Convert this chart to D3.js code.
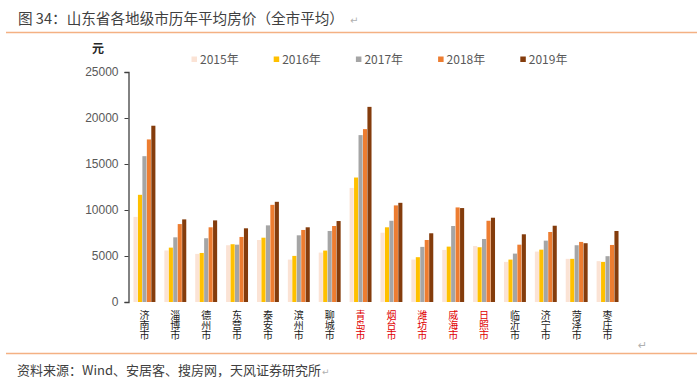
<!DOCTYPE html>
<html lang="zh">
<head>
    <meta charset="UTF-8">
    <title>山东省各地级市历年平均房价</title>
    <style>
        body { margin: 0; background: #fff; }
        svg { display: block; }
    </style>
    <script src="https://d3js.org/d3.v7.min.js"></script>
</head>
<body>
    <div id="svg"></div>
    <script>
        const boxWidth = 700, boxHeight = 383

        const cities = ["济南市", "淄博市", "德州市", "东营市", "泰安市", "滨州市", "聊城市", "青岛市",
            "烟台市", "潍坊市", "威海市", "日照市", "临沂市", "济宁市", "菏泽市", "枣庄市"]
        const redCities = ["青岛市", "烟台市", "潍坊市", "威海市", "日照市"]
        const years = ["2015年", "2016年", "2017年", "2018年", "2019年"]
        const yearColors = ["#fbe3d5", "#ffc000", "#a5a5a5", "#ed7d31", "#843c0c"]

        const price2015 = [9250, 5600, 5230, 6170, 6740, 4610, 5370, 12400, 7530, 4610, 5660, 6090, 4360, 5480, 4690, 4440]
        const price2016 = [11650, 5910, 5330, 6280, 6990, 5010, 5590, 13530, 8120, 4870, 6020, 5950, 4610, 5690, 4690, 4360]
        const price2017 = [15850, 7030, 6930, 6230, 8330, 7250, 7720, 18140, 8830, 5990, 8260, 6850, 5260, 6670, 6170, 4980]
        const price2018 = [17670, 8470, 8120, 7070, 10560, 7830, 8260, 18790, 10500, 6740, 10280, 8830, 6230, 7610, 6530, 6200]
        const price2019 = [19160, 8980, 8870, 8010, 10890, 8120, 8800, 21210, 10780, 7470, 10210, 9160, 7360, 8290, 6390, 7720]
        const series = [price2015, price2016, price2017, price2018, price2019]

        const yTicks = [0, 5000, 10000, 15000, 20000, 25000]

        const cnFont = "'Noto Sans CJK SC', 'Noto Sans', sans-serif"
        const numFont = "'Liberation Sans', Arial, sans-serif"

        const svg = d3.select("#svg").append("svg")
            .attr("width", boxWidth).attr("height", boxHeight)

        // title + rule
        svg.append("text")
            .attr("x", 18).attr("y", 24)
            .attr("font-family", cnFont).attr("font-size", 14.6)
            .attr("fill", "#404040")
            .text("图 34：山东省各地级市历年平均房价（全市平均）")
        svg.append("text")
            .attr("x", 350).attr("y", 24)
            .attr("font-family", "'DejaVu Sans', sans-serif").attr("font-size", 10)
            .attr("fill", "#b0b0b0").text("↵")
        svg.append("line")
            .attr("x1", 6).attr("x2", 697).attr("y1", 32.5).attr("y2", 32.5)
            .attr("stroke", "#f4b183").attr("stroke-width", 1.5)

        const xScale = d3.scaleBand()
            .domain(cities)
            .range([129, 623])
            .paddingInner(0.29)
            .paddingOuter(0.145)

        const xInner = d3.scaleBand()
            .domain(years)
            .range([0, xScale.bandwidth()])
            .paddingInner(0.08)

        const yScale = d3.scaleLinear()
            .domain([0, 25000])
            .range([302, 72])

        // bars
        const g = svg.append("g")
        years.forEach((yr, i) => {
            g.selectAll(".bar" + i).data(cities).enter().append("rect")
                .attr("class", "bar" + i)
                .attr("x", d => xScale(d) + xInner(yr))
                .attr("width", xInner.bandwidth())
                .attr("y", (d, j) => yScale(series[i][j]))
                .attr("height", (d, j) => yScale(0) - yScale(series[i][j]))
                .attr("fill", yearColors[i])
        })

        // y axis
        const yAxis = d3.axisLeft(yScale).tickValues(yTicks).tickSize(4).tickPadding(6)
            .tickFormat(d3.format("d"))
        const yAxisGroup = svg.append("g")
            .attr("transform", "translate(128.5, 0)")
            .call(yAxis)
        yAxisGroup.select(".domain").attr("stroke", "#404040").attr("stroke-width", 1.3)
        yAxisGroup.selectAll(".tick line").attr("stroke", "#404040")
        yAxisGroup.selectAll(".tick text")
            .attr("font-family", numFont).attr("font-size", 12).attr("fill", "#595959")

        svg.append("text")
            .attr("x", 92).attr("y", 53)
            .attr("font-family", cnFont).attr("font-size", 12).attr("font-weight", "bold")
            .attr("fill", "#262626").text("元")

        // x labels, one character per line
        const xLabels = svg.selectAll(".city").data(cities).enter().append("text")
            .attr("class", "city")
            .attr("font-family", cnFont).attr("font-size", 10)
            .attr("text-anchor", "middle")
            .attr("fill", d => redCities.includes(d) ? "#e00000" : "#1a1a1a")
        xLabels.each(function (d) {
            const cx = xScale(d) + xScale.bandwidth() / 2
            d3.select(this).selectAll("tspan").data(d.split("")).enter().append("tspan")
                .attr("x", cx)
                .attr("y", (c, k) => 318.5 + k * 10.4)
                .text(c => c)
        })
        svg.append("text")
            .attr("x", 638).attr("y", 349)
            .attr("font-family", "'DejaVu Sans', sans-serif").attr("font-size", 11)
            .attr("fill", "#b0b0b0").text("↵")

        // legend
        const legend = svg.selectAll(".legend").data(years).enter().append("g")
            .attr("class", "legend")
            .attr("transform", (d, i) => `translate(${191.5 + i * 82.2}, 0)`)
        legend.append("rect")
            .attr("x", 0).attr("y", 56.5).attr("width", 5.5).attr("height", 5.5)
            .attr("fill", (d, i) => yearColors[i])
        legend.append("text")
            .attr("x", 8.5).attr("y", 63.5)
            .attr("font-family", cnFont).attr("font-size", 12)
            .attr("fill", "#595959")
            .text(d => d)

        // source
        svg.append("line")
            .attr("x1", 6).attr("x2", 697).attr("y1", 353.5).attr("y2", 353.5)
            .attr("stroke", "#f4b183").attr("stroke-width", 1.3)
        svg.append("text")
            .attr("x", 17).attr("y", 375)
            .attr("font-family", cnFont).attr("font-size", 13)
            .attr("fill", "#404040")
            .text("资料来源：Wind、安居客、搜房网，天风证券研究所")
        svg.append("text")
            .attr("x", 322).attr("y", 375)
            .attr("font-family", "'DejaVu Sans', sans-serif").attr("font-size", 9)
            .attr("fill", "#b0b0b0").text("↵")
    </script>
</body>
</html>
